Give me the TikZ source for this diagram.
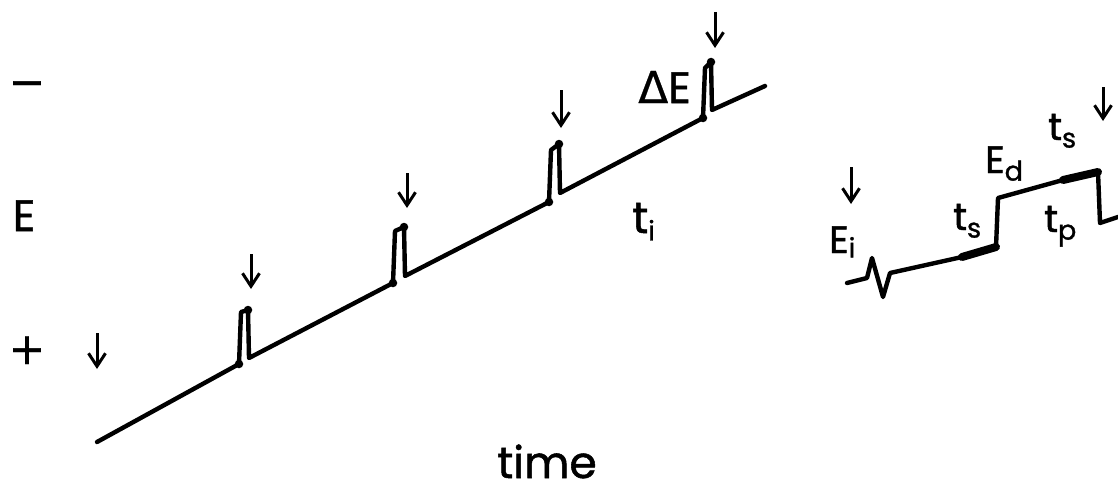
\documentclass[tikz,border=0pt]{standalone}
\usepackage{fontspec}
\setmainfont{Poppins}[UprightFeatures={FakeBold=1.2}]
\newfontfamily\dejavu{DejaVu Sans}[UprightFeatures={FakeBold=0.6}]
\usetikzlibrary{arrows.meta}
\newcommand\sbs[2]{\raisebox{-#2}{\fontsize{27}{27}\selectfont #1}}
\tikzset{
  wave/.style={line width=4.4pt, line join=round, line cap=round},
  thickseg/.style={line width=8pt, line cap=round},
  marker/.style={-{Straight Barb[length=13pt,width=17pt,line width=3pt]}, line width=3pt},
  corner/.style={fill, circle, inner sep=0, minimum size=8.5pt},
  big/.style={inner sep=0, anchor=base, font=\fontsize{44}{44}\selectfont},
  mid/.style={inner sep=0, anchor=base west, font=\fontsize{38}{38}\selectfont},
}
\begin{document}
\begin{tikzpicture}[x=1pt, y=-1pt]
\useasboundingbox (0,0) rectangle (1118,487);
% axis labels
\node[big, font=\dejavu\fontsize{44}{44}\selectfont] (minus) at (27,97) {−};
\node[big] (elab) at (24,231) {E};
\node[big, font=\dejavu\fontsize{44}{44}\selectfont] (plus) at (27,364) {+};
\node[big] (time) at (547,478) {time};
% staircase ramp with pulses
\coordinate (r0) at (97,442);
\coordinate (a1) at (239,364); \coordinate (b1) at (241,312); \coordinate (c1) at (248,310); \coordinate (d1) at (249,358);
\coordinate (a2) at (393,283); \coordinate (b2) at (395,231); \coordinate (c2) at (404,227); \coordinate (d2) at (405,276);
\coordinate (a3) at (549,202); \coordinate (b3) at (551,150); \coordinate (c3) at (559,144); \coordinate (d3) at (560,193);
\coordinate (a4) at (703,118); \coordinate (b4) at (705,68); \coordinate (c4) at (711,62); \coordinate (d4) at (712,110);
\coordinate (r1) at (765,86);
\draw[wave] (r0) -- (a1) -- (b1) -- (c1) -- (d1) -- (a2) -- (b2) -- (c2) -- (d2)
  -- (a3) -- (b3) -- (c3) -- (d3) -- (a4) -- (b4) -- (c4) -- (d4) -- (r1);
\foreach \p in {a1,c1,a2,c2,a3,c3,a4,c4} \node[corner] at (\p) {};
% pulse markers
\coordinate (m0) at (97,333); \coordinate (n0) at (97,369);
\coordinate (m1) at (251,254); \coordinate (n1) at (251,289);
\coordinate (m2) at (407,173); \coordinate (n2) at (407,208);
\coordinate (m3) at (561,90);  \coordinate (n3) at (561,128);
\coordinate (m4) at (715,12);  \coordinate (n4) at (715,48);
\foreach \i in {0,...,4} \draw[marker] (m\i) -- (n\i);
\node[big, anchor=base west] (dE) at (638,103) {{\dejavu Δ}E};
\node[big, anchor=base west] (ti) at (632,233) {t\sbs{i}{0.17em}};
% detail on the right
\coordinate (s0) at (847,283); \coordinate (s1) at (867,278); \coordinate (s2) at (872,258);
\coordinate (s3) at (883,297); \coordinate (s4) at (890,273); \coordinate (s5) at (962,257);
\coordinate (s6) at (996,247); \coordinate (s7) at (998,198); \coordinate (s8) at (1063,180);
\coordinate (s9) at (1098,172); \coordinate (s10) at (1100,223); \coordinate (s11) at (1118,217);
\draw[wave] (s0) -- (s1) -- (s2) -- (s3) -- (s4) -- (s5) -- (s6) -- (s7) -- (s8) -- (s9) -- (s10) -- (s11);
\draw[thickseg] (s5) -- (s6);
\draw[thickseg] (s8) -- (s9);
\coordinate (m5) at (851,167); \coordinate (n5) at (851,204);
\coordinate (m6) at (1103,87); \coordinate (n6) at (1103,121);
\draw[marker] (m5) -- (n5);
\draw[marker] (m6) -- (n6);
\node[mid] (Ei) at (829,253) {E\sbs{i}{0.12em}};
\node[mid] (ts1) at (953,230) {t\sbs{s}{0.2em}};
\node[mid] (Ed) at (985,173) {E\sbs{d}{0.2em}};
\node[mid] (tp) at (1044,232) {t\sbs{p}{0.2em}};
\node[mid] (ts2) at (1048,140) {t\sbs{s}{0.2em}};
\end{tikzpicture}
\end{document}
